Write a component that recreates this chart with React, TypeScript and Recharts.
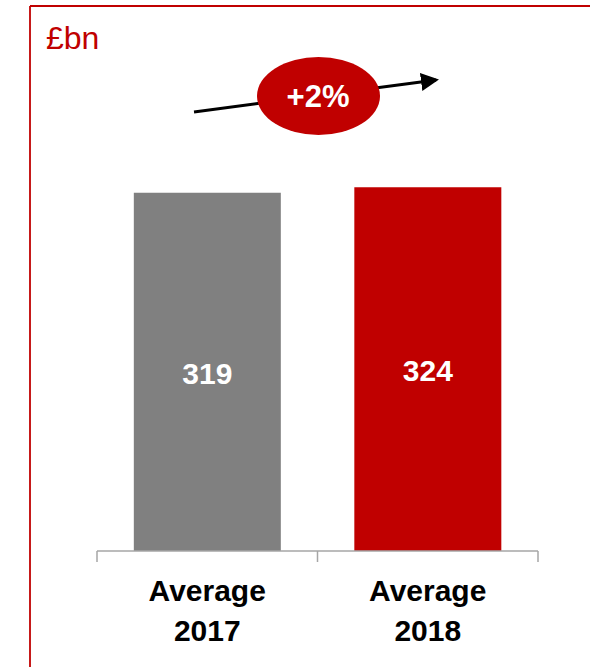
import { BarChart, Bar, XAxis, YAxis, LabelList, Cell, Customized } from 'recharts';

const categories = ['Average 2017', 'Average 2018'];
const values = [319, 324];
const barColors = ['#808080', '#C00000'];
const changeLabel = '+2%';
const unitLabel = '£bn';

const data = categories.map((c, i) => ({ name: c, value: values[i] }));

const RED = '#C00000';
const FONT = 'Liberation Sans, Arial, sans-serif';
const W = 590;
const H = 667;
const M = { top: 158, right: 52, bottom: 0, left: 97 };
const AXIS_H = 116;
const band = (W - M.left - M.right) / categories.length;

function CategoryTick(props: any) {
  const { x, payload, index } = props;
  const parts = String(payload.value).split(' ');
  const axisY = H - AXIS_H;
  return (
    <g>
      <line x1={x - band / 2} y1={axisY} x2={x - band / 2} y2={axisY + 11} stroke="#A6A6A6" strokeWidth={1.5} />
      {index === categories.length - 1 && (
        <line x1={x + band / 2} y1={axisY} x2={x + band / 2} y2={axisY + 11} stroke="#A6A6A6" strokeWidth={1.5} />
      )}
      <text x={x} y={axisY} textAnchor="middle" fontFamily={FONT} fontWeight="bold" fontSize={30} fill="#000">
        {parts.map((p: string, i: number) => (
          <tspan key={i} x={x} dy={i === 0 ? 50 : 40}>
            {p}
          </tspan>
        ))}
      </text>
    </g>
  );
}

function Annotations() {
  return (
    <g>
      <line x1={30} y1={6} x2={590} y2={6} stroke={RED} strokeWidth={1.8} />
      <line x1={30} y1={6} x2={30} y2={667} stroke={RED} strokeWidth={1.8} />
      <text x={46} y={49} fontFamily={FONT} fontSize={32} fill={RED}>
        {unitLabel}
      </text>
      <defs>
        <marker id="arrowhead" markerWidth="6" markerHeight="6" refX="5" refY="3" orient="auto" markerUnits="strokeWidth">
          <path d="M0,0 L6,3 L0,6 Z" fill="#000" />
        </marker>
      </defs>
      <line x1={194} y1={112} x2={436} y2={80} stroke="#000" strokeWidth={3} markerEnd="url(#arrowhead)" />
      <ellipse cx={318.5} cy={96} rx={61.5} ry={39} fill={RED} />
      <text x={318} y={107} textAnchor="middle" fontFamily={FONT} fontWeight="bold" fontSize={31} fill="#fff">
        {changeLabel}
      </text>
    </g>
  );
}

export default function App() {
  return (
    <div style={{ position: 'absolute', left: 0, top: 0 }}>
      <BarChart width={W} height={H} data={data} margin={M} barCategoryGap="16.7%">
        <Customized component={Annotations} />
        <YAxis hide domain={[0, 350]} />
        <XAxis
          dataKey="name"
          height={AXIS_H}
          axisLine={{ stroke: '#A6A6A6', strokeWidth: 1.5 }}
          tickLine={false}
          tick={<CategoryTick />}
          interval={0}
        />
        <Bar dataKey="value" isAnimationActive={false}>
          {data.map((d, i) => (
            <Cell key={d.name} fill={barColors[i]} />
          ))}
          <LabelList
            dataKey="value"
            position="center"
            dy={1}
            fill="#fff"
            fontFamily={FONT}
            fontWeight="bold"
            fontSize={30}
          />
        </Bar>
      </BarChart>
    </div>
  );
}
